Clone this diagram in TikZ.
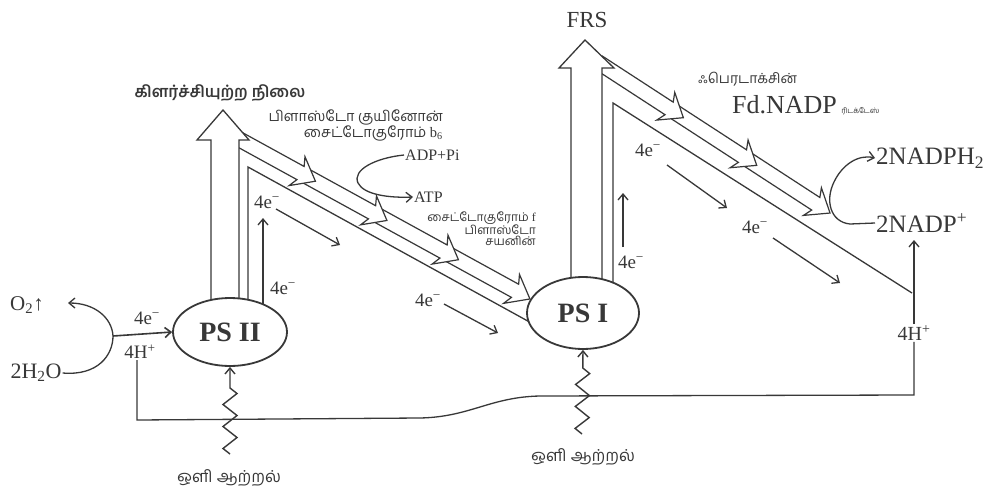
\documentclass[tikz,border=0pt]{standalone}
\usepackage{fontspec}
\setmainfont{Liberation Serif}
\newfontfamily\tamilfont[Script=Tamil]{Hind Madurai}
\usetikzlibrary{shapes.geometric,arrows.meta,positioning,calc,backgrounds,decorations.pathmorphing}
\definecolor{ink}{HTML}{383838}
\tikzset{
  wire/.style={draw=ink,line width=1.3pt},
  elarrow/.style={-{Straight Barb[length=6pt,width=10pt]},line width=1.3pt,draw=ink},
  psys/.style={ellipse,draw=ink,fill=white,line width=1.8pt,minimum width=114pt,minimum height=68pt,
    inner sep=0pt,font=\fontsize{28}{30}\selectfont\bfseries,text=ink},
  chem/.style={font=\fontsize{#1}{#1}\selectfont,text=ink,inner sep=1pt},
  chem/.default=19,
  tam/.style={font=\tamilfont\fontsize{#1}{#1}\selectfont,text=ink,inner sep=1pt},
  tam/.default=13,
  hollow/.style={draw=ink,fill=white,line width=1.3pt,line join=miter},
  lightray/.style={elarrow,line width=1.4pt,decorate,
    decoration={zigzag,segment length=22pt,amplitude=7pt,post length=12pt}},
  chainarr/.pic={
    \draw[hollow,line width=1.2pt] (-14,-7.5) -- (#1-17,-7.5) -- (#1-21,-16.5) -- (#1,0)
      -- (#1-21,16.5) -- (#1-17,7.5) -- (-14,7.5) -- cycle;},
}

\begin{document}
\begin{tikzpicture}[x=1pt,y=-1pt]
  \useasboundingbox (0,0) rectangle (986,490);
  % photosystems
  \node[psys] (ps2) at (230,332) {PS II};
  \node[psys,minimum width=112pt,minimum height=72pt] (ps1) at (583,313) {PS I};

  % texts
  \node[tam=16,font=\tamilfont\fontsize{16}{16}\selectfont\bfseries] (excited) at (220,93) {கிளர்ச்சியுற்ற நிலை};
  \node[tam=14.5,anchor=north east,align=right] (pq) at (444,109)
    {பிளாஸ்டோ குயினோன்\\[-1pt]சைட்டோகுரோம் {\rmfamily b\textsubscript{6}}};
  \node[chem=16,anchor=west] (adp) at (404,155) {ADP+Pi};
  \node[chem=16,anchor=west] (atp) at (413,197) {ATP};
  \node[tam=12,anchor=north east,align=right] (cytf) at (537,211)
    {சைட்டோகுரோம் {\rmfamily f}\\[-1pt]பிளாஸ்டோ\\[-1pt]சயனின்};
  \node[chem=23] (frs) at (587,20) {FRS};
  \node[tam=14,anchor=west] (fd) at (697,79) {ஃபெரடாக்சின்};
  \node[chem=26,anchor=west] (fdnadp) at (731,105) {Fd.NADP\,{\tamilfont\fontsize{7.5}{8}\selectfont ரிடக்டேஸ்}};
  \node[chem=25,anchor=west] (nadph) at (875,158) {2NADPH\textsubscript{2}};
  \node[chem=25,anchor=west] (nadp) at (875,223) {2NADP\textsuperscript{+}};
  \node[chem=20] (hright) at (914,333) {4H\textsuperscript{+}};
  \node[chem=21] (o2) at (27,305) {O\textsubscript{2}↑};
  \node[chem=22] (water) at (36,373) {2H\textsubscript{2}O};
  \node[chem=19] (eleft) at (147,318) {4e\textsuperscript{−}};
  \node[chem=19] (hleft) at (140,352) {4H\textsuperscript{+}};
  \node[chem=19] (e1) at (267,202) {4e\textsuperscript{−}};
  \node[chem=19] (e2) at (283,288) {4e\textsuperscript{−}};
  \node[chem=19] (e3) at (428,300) {4e\textsuperscript{−}};
  \node[chem=19] (e4) at (648,150) {4e\textsuperscript{−}};
  \node[chem=19] (e5) at (631,262) {4e\textsuperscript{−}};
  \node[chem=19] (e6) at (755,227) {4e\textsuperscript{−}};
  \node[tam=16.5] (lightL) at (229,478) {ஒளி ஆற்றல்};
  \node[tam=16.5] (lightR) at (583,457) {ஒளி ஆற்றல்};

  \coordinate (chainLa) at (244,142);
  \coordinate (chainLb) at (530,299);
  \coordinate (chainRa) at (610,70);
  \coordinate (chainRb) at (830,213);
  \coordinate (kneeL) at (248,167);
  \coordinate (kneeR) at (613,103);
  \coordinate (split) at (113,336);
  \coordinate (o2tip) at (68,303);
  \coordinate (loopL) at (137,420);
  \coordinate (loopR) at (914,395);
  \coordinate (nadpin) at (914,240);
  \coordinate (rayL) at (230,454);
  \coordinate (rayR) at (582,434);

  \begin{scope}[on background layer]
    \fill[white] (0,0) rectangle (986,490);
    % carrier chains
    \foreach \i [evaluate=\i as \f using \i/4] in {3,2,1,0}
      \pic[rotate=-28.77] at ($(chainLa)!\f!(chainLb)$) {chainarr=81.5};
    \foreach \i [evaluate=\i as \f using \i/3] in {2,1,0}
      \pic[rotate=-33.03] at ($(chainRa)!\f!(chainRb)$) {chainarr=87.5};
    % excitation arrows
    \draw[hollow] (211,312) -- (211,140) -- (197,140) -- (223,110) -- (249,140) -- (239,140) -- (239,312);
    \draw[hollow] (571,300) -- (571,68) -- (559,68) -- (585,40) -- (614,68) -- (602,68) -- (602,300);
    % energy levels
    \draw[wire] (248,312) -- (kneeL) -- (535,325);
    \draw[wire] (613,300) -- (kneeR) -- (912,293);
    \draw[elarrow] (263,312) -- (263,218);
    \draw[elarrow] (623,247) -- (623,193);
  \end{scope}

  % electron flow
  \draw[elarrow] (276,209) -- (340,245);
  \draw[elarrow] (444,304) -- (498,333);
  \draw[elarrow] (667,165) -- (727,208);
  \draw[elarrow] (773,238) -- (840,283);
  \draw[elarrow] (water.east) .. controls (98,376) and (113,355) .. (split)
    .. controls (112,318) and (95,303) .. (o2tip);
  \draw[elarrow,line width=1.6pt] (split) -- (ps2.west);
  \draw[elarrow] (adp.west) .. controls (375,158) and (352,170) .. (358,183)
    .. controls (364,195) and (390,198) .. (atp.west);
  \draw[elarrow] (nadp.west) -- (850,224) .. controls (830,222) and (825,200) .. (834,182)
    .. controls (842,165) and (858,154) .. (nadph.west);
  \draw[elarrow] (hright.north) -- (nadpin);
  % proton loop
  \draw[wire] (hleft.south -| loopL) -- (loopL) -- (420,418) .. controls (470,417) and (490,397) .. (540,396)
    -- (loopR) -- (hright.south);
  % light
  \draw[lightray] (rayL) -- (ps2.south);
  \draw[lightray] (rayR) -- (ps1.south);
\end{tikzpicture}
\end{document}
